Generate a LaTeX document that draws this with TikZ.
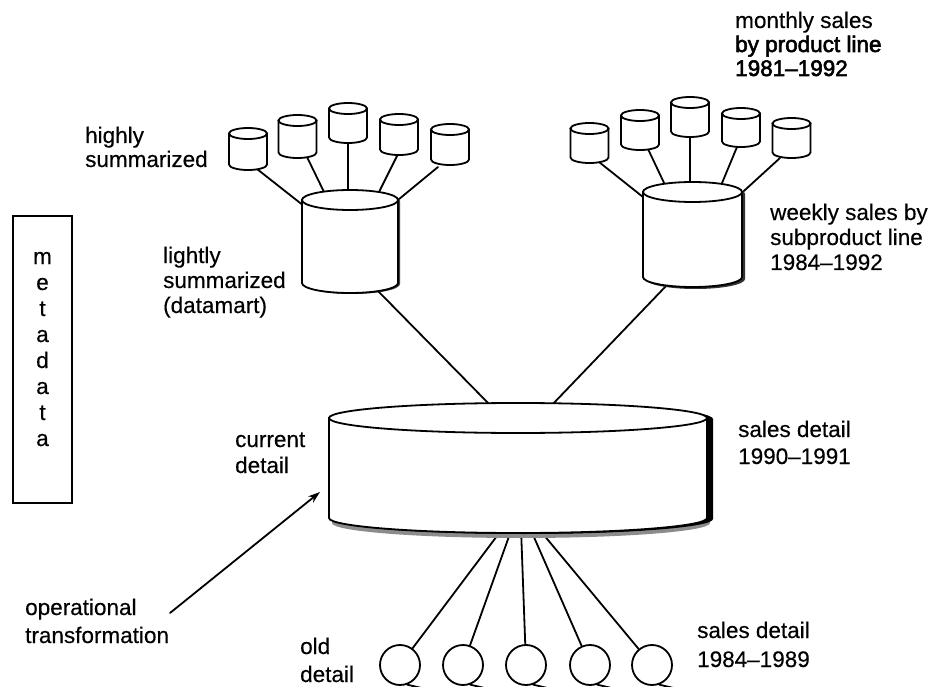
\documentclass[tikz,border=0pt]{standalone}
\usepackage{fontspec}
\setmainfont[FakeBold=0.3]{Liberation Sans}
\newfontfamily\darkfont[FakeBold=2.5,Ligatures=TeX]{Liberation Sans}
\usetikzlibrary{arrows.meta}
\newcommand\lblsize[1]{\fontsize{22.5}{#1}\selectfont}
% #1 name, #2 cx, #3 y of top ellipse centre, #4 half width, #5 body height, #6 y radius
\newcommand\dbcyl[6]{%
  \coordinate (#1) at (#2,#3);
  \filldraw[cyl] (#2-#4,#3) -- (#2-#4,#3+#5)
     arc[start angle=180,end angle=360,x radius=#4pt,y radius=#6pt]
     -- (#2+#4,#3) -- cycle;
  \filldraw[cyl] (#2,#3) ellipse[x radius=#4pt,y radius=#6pt];
}
% shadow silhouette: #1 cx, #2 cy, #3 hw, #4 body, #5 ry, #6 colour, #7 dx, #8 dy
\newcommand\dbshadow[8]{%
  \fill[#6] (#1-#3+#7,#2+#8) -- (#1-#3+#7,#2+#4+#8)
     arc[start angle=180,end angle=360,x radius=#3pt,y radius=#5pt]
     -- (#1+#3+#7,#2+#8)
     arc[start angle=0,end angle=180,x radius=#3pt,y radius=#5pt] -- cycle;
}
\begin{document}
\begin{tikzpicture}[x=1pt,y=-1pt,
  ln/.style={line width=1.8pt,line cap=round},
  cyl/.style={line width=1.8pt,draw=black,fill=white},
  lbl/.style={anchor=base west,align=left,inner sep=0pt},
  tape/.style={circle,draw,line width=1.8pt,minimum size=40pt,inner sep=0pt,fill=white}]
\useasboundingbox (0,0) rectangle (935,687);
\fill[white] (0,0) rectangle (935,687);

% ---------- connector end points ----------
\coordinate (l1s) at (257,169); \coordinate (l1e) at (304,206);
\coordinate (l2s) at (307,157); \coordinate (l2e) at (324.5,193);
\coordinate (l3s) at (348,142); \coordinate (l3e) at (348,193);
\coordinate (l4s) at (397,156); \coordinate (l4e) at (378.5,193);
\coordinate (l5s) at (438,167); \coordinate (l5e) at (395.5,202);
\coordinate (lls) at (378,291); \coordinate (lle) at (492,407);
\coordinate (r1s) at (599,162); \coordinate (r1e) at (645.5,199);
\coordinate (r2s) at (648,149); \coordinate (r2e) at (665.5,186);
\coordinate (r3s) at (690,136); \coordinate (r3e) at (690,186);
\coordinate (r4s) at (737,147); \coordinate (r4e) at (720.8,186);
\coordinate (r5s) at (780,158); \coordinate (r5e) at (739.5,195);
\coordinate (rls) at (667,285); \coordinate (rle) at (550,407);
\coordinate (b1) at (503,528); \coordinate (b2) at (512,528);
\coordinate (b3) at (521,528); \coordinate (b4) at (530,528);
\coordinate (b5) at (538,528);

% ---------- connectors ----------
\foreach \a in {l1,l2,l3,l4,l5,ll,r1,r2,r3,r4,r5,rl}
  \draw[ln] (\a s) -- (\a e);

% ---------- old detail tapes ----------
\node[tape] (t1) at (400,665) {};
\node[tape] (t2) at (463,665) {};
\node[tape] (t3) at (526,665) {};
\node[tape] (t4) at (590,665) {};
\node[tape] (t5) at (652,665) {};
\foreach \i in {1,...,5}{
  \draw[ln] (t\i) -- (b\i);
  \draw[ln] (t\i.-70) -- ++(15,3.5);
}

% ---------- highly summarized (left) ----------
\dbcyl{hl1}{248}{133.5}{19}{31}{5.5}
\dbcyl{hl2}{297.5}{120.5}{19}{32}{5.5}
\dbcyl{hl3}{348}{108.5}{19}{29}{5.5}
\dbcyl{hl4}{399}{119.5}{19}{30}{5.5}
\dbcyl{hl5}{450}{129.5}{19}{30}{5.5}
% ---------- lightly summarized (left) ----------
\dbshadow{350}{200}{48}{83}{10}{black!75}{2}{1}
\dbcyl{ls}{350}{200}{48}{83}{10}

% ---------- monthly sales (right) ----------
\dbcyl{hr1}{589.5}{128.5}{19}{29}{5.5}
\dbcyl{hr2}{640}{115.5}{19}{29}{5.5}
\dbcyl{hr3}{690}{102.5}{19}{29}{5.5}
\dbcyl{hr4}{741}{113.5}{19}{28}{5.5}
\dbcyl{hr5}{791.5}{123.5}{19}{29}{5.5}
% ---------- weekly sales (right) ----------
\dbshadow{692.5}{192}{49.5}{85}{10}{black!80}{3}{2}
\dbcyl{ws}{692.5}{192}{49.5}{85}{10}

% ---------- current detail ----------
\dbshadow{518}{418}{189}{100}{15}{black!45}{3}{5}
\dbshadow{518}{418}{189}{100}{15}{black}{6}{1}
\dbcyl{cd}{518}{418}{189}{100}{15}

% ---------- operational transformation arrow ----------
\coordinate (ops) at (170,613);
\coordinate (ope) at (320,492);
\draw[ln,-{Stealth[length=12pt,width=8pt]}] (ops) -- (ope);

% ---------- metadata ----------
\node[draw,line width=1.8pt,minimum width=59pt,minimum height=287pt,inner sep=0pt] (meta) at (42.5,359.5) {};
\node[align=center,font=\lblsize{26},inner sep=0pt,anchor=base] (metatext) at (42.5,446) {m\\e\\t\\a\\d\\a\\t\\a};

% ---------- labels (anchored at the baseline of the last line) ----------
\node[lbl,font=\lblsize{24}] (hsl) at (85,167) {highly\\summarized};
\node[lbl,font=\lblsize{25}] (lsl) at (163,313) {lightly\\summarized\\(datamart)};
\node[lbl,font=\lblsize{26}] (cdl) at (235,473) {current\\detail};
\node[lbl,font=\lblsize{27}] (sdl) at (738,464) {sales detail\\1990--1991};
\node[lbl,font=\lblsize{24}] (msl) at (735,76) {monthly sales\\{\darkfont by product line}\\{\darkfont 1981--1992}};
\node[lbl,font=\lblsize{25}] (wsl) at (770,270) {weekly sales by\\subproduct line\\1984--1992};
\node[lbl,font=\lblsize{28}] (otl) at (25,643) {operational\\transformation};
\node[lbl,font=\lblsize{28}] (odl) at (300,682) {old\\detail};
\node[lbl,font=\lblsize{29}] (sd2) at (697,667) {sales detail\\1984--1989};
\end{tikzpicture}
\end{document}
